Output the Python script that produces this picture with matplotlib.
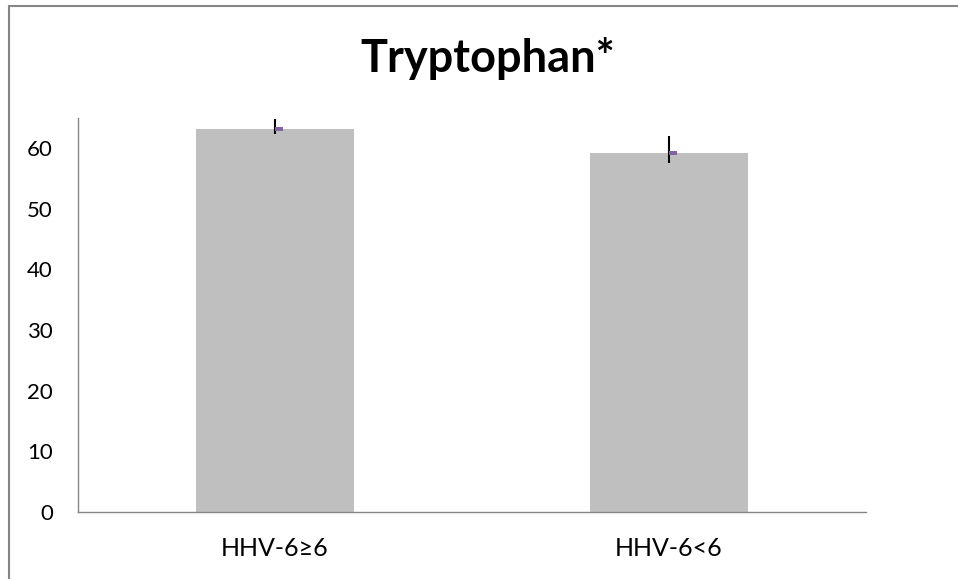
import numpy as np
import matplotlib
matplotlib.use('Agg')
import matplotlib.pyplot as plt
from matplotlib.patches import Rectangle
from matplotlib.path import Path

# data
groups = ['HHV-6≥6', 'HHV-6<6']
means = [63.1, 59.1]
err_low = [0.8, 1.6]
err_high = [1.65, 2.9]

plt.rcParams['font.family'] = ['Lato', 'DejaVu Sans']

fig = plt.figure(figsize=(9.58, 5.79), dpi=100)
ax = fig.add_axes([0.0814, 0.1157, 0.8226, 0.6813])

x = np.arange(len(groups))
ax.bar(x, means, width=0.4, color='#bfbfbf', zorder=2)
ax.errorbar(x, means, yerr=[err_low, err_high], fmt='none',
            ecolor='black', elinewidth=1.5, capsize=0, zorder=3)

# small purple mean marker sticking out to the right of the error bar
tick = Path([(0, -0.25), (1, -0.25), (1, 0.25), (0, 0.25), (0, -0.25)])
ax.plot(x, means, linestyle='none', marker=tick, markersize=11.5,
        color='#8064a2', markeredgewidth=0, zorder=4)

ax.set_xlim(-0.5, 1.5)
ax.set_ylim(0, 65)
ax.set_yticks(range(0, 61, 10))
ax.set_xticks(x)
ax.set_xticklabels(groups)
ax.tick_params(length=0, colors='black')
ax.tick_params(axis='y', pad=18, labelsize=16)
ax.tick_params(axis='x', pad=18, labelsize=18)

for s in ['top', 'right']:
    ax.spines[s].set_visible(False)
for s in ['left', 'bottom']:
    ax.spines[s].set_color('#868686')
    ax.spines[s].set_linewidth(1)

fig.text(0.509, 0.876, 'Tryptophan*', ha='center', va='baseline',
         fontsize=32.5, fontweight='bold')

# chart area border (only top and left visible in the crop)
fig.patches.append(Rectangle((9 / 958, -0.1), 1.2, 1.1 - 6 / 579,
                             transform=fig.transFigure, fill=False,
                             edgecolor='#868686', linewidth=1.5))

fig.savefig('out.png', dpi=100)
